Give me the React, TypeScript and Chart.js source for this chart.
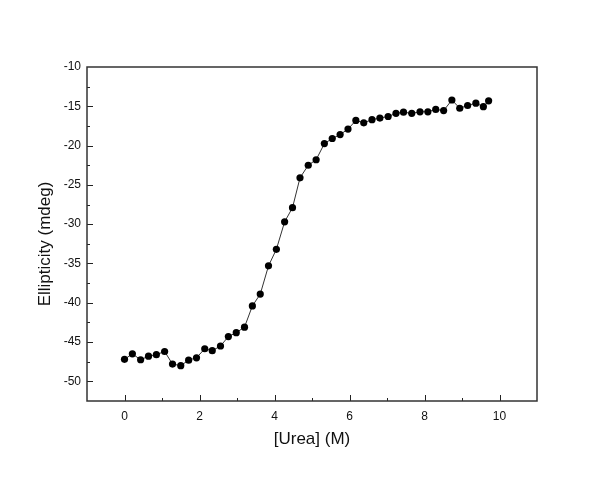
import React, { useEffect, useRef } from "react";
import { Chart, registerables } from "chart.js";

Chart.register(...registerables);

const ureaM = [
  0.0, 0.21, 0.43, 0.64, 0.85, 1.07, 1.28, 1.5, 1.71, 1.92, 2.14, 2.34, 2.56, 2.77, 2.98, 3.2,
  3.41, 3.62, 3.84, 4.05, 4.27, 4.48, 4.68, 4.9, 5.11, 5.33, 5.54, 5.75, 5.96, 6.17, 6.38, 6.6,
  6.81, 7.03, 7.24, 7.44, 7.66, 7.88, 8.09, 8.3, 8.51, 8.73, 8.94, 9.15, 9.37, 9.57, 9.71,
];
const ellipticity = [
  -47.2, -46.5, -47.25, -46.8, -46.6, -46.2, -47.8, -48.0, -47.3, -47.0, -45.85, -46.1, -45.5,
  -44.3, -43.8, -43.1, -40.4, -38.9, -35.3, -33.2, -29.7, -27.9, -24.1, -22.5, -21.8, -19.75,
  -19.1, -18.6, -17.9, -16.8, -17.1, -16.7, -16.5, -16.3, -15.9, -15.75, -15.9, -15.7, -15.7,
  -15.4, -15.55, -14.2, -15.25, -14.9, -14.6, -15.05, -14.3,
];

const xTitle = "[Urea] (M)";
const yTitle = "Ellipticity (mdeg)";
const xMin = -1;
const xMax = 11;
const yMin = -52.5;
const yMax = -10;

const FONT = "'Liberation Sans', Arial, sans-serif";

const framePlugin = {
  id: "frameAndTicks",
  afterDraw(chart: any) {
    const { ctx, chartArea } = chart;
    const { left, right, top, bottom } = chartArea;
    ctx.save();
    ctx.strokeStyle = "#222";
    ctx.lineWidth = 1;
    const xs = chart.scales.x;
    xs.ticks.forEach((t: any) => {
      const v = t.value;
      if (v <= xMin || v >= xMax) return;
      const px = Math.round(xs.getPixelForValue(v)) + 0.5;
      const len = v % 2 === 0 ? 6 : 3;
      ctx.beginPath();
      ctx.moveTo(px, bottom);
      ctx.lineTo(px, bottom - len);
      ctx.stroke();
    });
    const ys = chart.scales.y;
    ys.ticks.forEach((t: any) => {
      const v = t.value;
      if (v <= yMin || v >= yMax) return;
      const py = Math.round(ys.getPixelForValue(v)) + 0.5;
      const len = v % 5 === 0 ? 6 : 3;
      ctx.beginPath();
      ctx.moveTo(left, py);
      ctx.lineTo(left + len, py);
      ctx.stroke();
    });
    ctx.strokeStyle = "#333";
    ctx.lineWidth = 1.5;
    ctx.strokeRect(left, top, right - left, bottom - top);

    // y-axis title (rotated), positioned as in the reference
    ctx.fillStyle = "#111";
    ctx.font = `17px ${FONT}`;
    ctx.textAlign = "center";
    ctx.textBaseline = "middle";
    ctx.translate(45, (top + bottom) / 2 + 10);
    ctx.rotate(-Math.PI / 2);
    ctx.fillText(yTitle, 0, 0);
    ctx.restore();
  },
};

export default function App() {
  const ref = useRef<HTMLCanvasElement | null>(null);
  useEffect(() => {
    if (!ref.current) return;
    const chart = new Chart(ref.current, {
      type: "scatter",
      data: {
        datasets: [
          {
            data: ureaM.map((x, i) => ({ x, y: ellipticity[i] })),
            showLine: true,
            borderColor: "#333",
            borderWidth: 1,
            backgroundColor: "#000",
            pointBackgroundColor: "#000",
            pointBorderColor: "#000",
            pointRadius: 3.6,
            pointBorderWidth: 0,
          },
        ],
      },
      options: {
        animation: false,
        responsive: false,
        events: [],
        layout: { padding: { top: 67, right: 63, left: 0, bottom: 0 } },
        plugins: { legend: { display: false }, tooltip: { enabled: false } },
        scales: {
          x: {
            type: "linear",
            min: xMin,
            max: xMax,
            grid: { display: false, drawTicks: false },
            border: { display: false },
            ticks: {
              stepSize: 1,
              autoSkip: false,
              maxRotation: 0,
              padding: 8,
              color: "#111",
              font: { family: FONT, size: 12 },
              callback: (v: any) => (Number(v) % 2 === 0 ? String(v) : ""),
            },
            title: {
              display: true,
              text: xTitle,
              color: "#111",
              font: { family: FONT, size: 17 },
              padding: { top: 0, bottom: 33 },
            },
            afterFit: (s: any) => {
              s.height = 82;
            },
          },
          y: {
            type: "linear",
            min: yMin,
            max: yMax,
            grid: { display: false, drawTicks: false },
            border: { display: false },
            ticks: {
              stepSize: 2.5,
              autoSkip: false,
              padding: 6,
              color: "#111",
              font: { family: FONT, size: 12 },
              callback: (v: any) => (Number(v) % 5 === 0 ? String(v) : ""),
            },
            afterFit: (s: any) => {
              s.width = 87;
            },
          },
        },
      },
      plugins: [framePlugin],
    });
    return () => chart.destroy();
  }, []);
  return (
    <div style={{ position: "absolute", left: 0, top: 0, width: 600, height: 483, background: "#fff" }}>
      <canvas ref={ref} width={600} height={483} style={{ width: 600, height: 483 }} />
    </div>
  );
}
